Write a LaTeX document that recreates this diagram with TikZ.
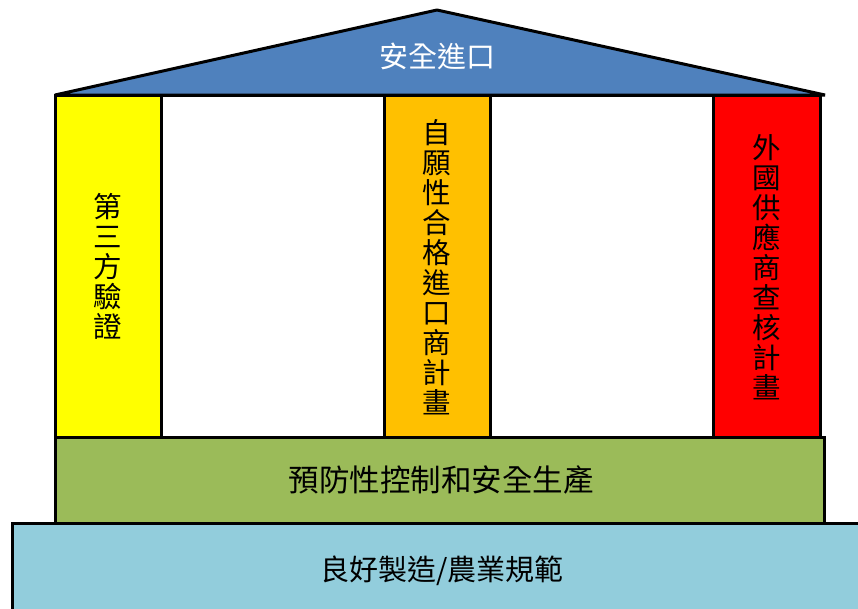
\documentclass[tikz,border=0pt]{standalone}
\usepackage{fontspec}
\newfontfamily\cjk{Noto Sans CJK TC}
\definecolor{roofblue}{HTML}{4F81BD}
\definecolor{pyellow}{HTML}{FFFF00}
\definecolor{porange}{HTML}{FFC000}
\definecolor{pred}{HTML}{FF0000}
\definecolor{bandgreen}{HTML}{9BBB59}
\definecolor{baseblue}{HTML}{92CDDC}
\tikzset{
  part/.style={draw=black, line width=3pt, line join=miter},
  vtext/.style={align=center, inner sep=0pt, font=\cjk\fontsize{28.5}{30}\selectfont, text=black},
  htext/.style={inner sep=0pt, font=\cjk\fontsize{29}{32}\selectfont, text=black},
}
\begin{document}
\begin{tikzpicture}[x=1pt,y=-1pt]
\useasboundingbox (0,0) rectangle (858,608);
\fill[white] (0,0) rectangle (858,608);
% base
\begin{scope}
\clip (0,0) rectangle (858,608);
\filldraw[part, fill=baseblue] (12,523) rectangle (866,616);
\end{scope}
% green band
\filldraw[part, fill=bandgreen] (55,437) rectangle (824,523);
% pillar frame
\filldraw[part, fill=white] (55,95) rectangle (820,437);
\filldraw[part, fill=pyellow] (55,95) rectangle (161,437);
\filldraw[part, fill=porange] (384,95) rectangle (490,437);
\filldraw[part, fill=pred] (713,95) rectangle (820,437);
% roof
\filldraw[part, line join=bevel, fill=roofblue] (55,95) -- (437,10) -- (825,95) -- cycle;
% texts
\node[htext, text=white] (roof) at (437,56) {安全進口};
\node[vtext] (p1) at (108,266) {第\\三\\方\\驗\\證};
\node[vtext] (p2) at (437,267) {自\\願\\性\\合\\格\\進\\口\\商\\計\\畫};
\node[vtext] (p3) at (767,267) {外\\國\\供\\應\\商\\查\\核\\計\\畫};
\node[htext, font=\cjk\fontsize{30.5}{32}\selectfont] (band) at (441,480) {預防性控制和安全生產};
\node[htext] (base) at (442,571) {良好製造/農業規範};
\end{tikzpicture}
\end{document}
